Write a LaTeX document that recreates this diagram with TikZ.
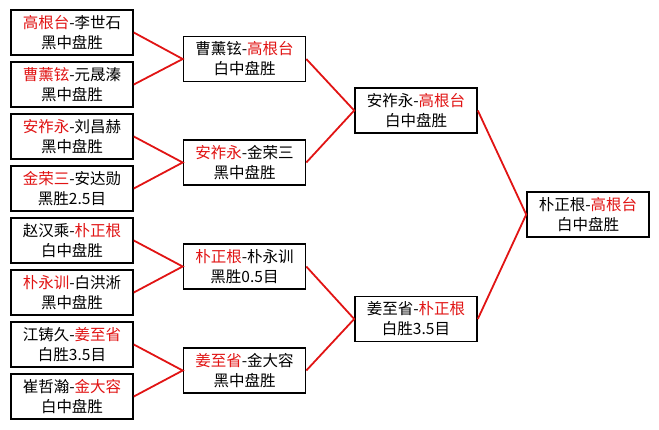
\documentclass[tikz,border=0pt]{standalone}
\usepackage{fontspec}
\newfontfamily\cjk{Noto Sans CJK SC}
\definecolor{win}{RGB}{225,20,20}
\newcommand{\w}[1]{\textcolor{win}{#1}}
\begin{document}
\begin{tikzpicture}[x=1pt, y=-1pt, line width=1.6pt]
	\tikzset{
		game/.style={draw=black, fill=white, minimum width=122pt, minimum height=45pt,
			inner sep=0pt, align=center, font=\cjk\fontsize{15.5}{20}\selectfont},
		link/.style={draw=win, line width=1.8pt}
	}
	\useasboundingbox (0, 0) rectangle (659, 429);

	% first round
	\node[game] (p1) at (72, 32.5) {\w{高根台}-李世石\\黑中盘胜};
	\node[game] (p2) at (72, 84.5) {\w{曹薰铉}-元晟溱\\黑中盘胜};
	\node[game] (p3) at (72, 136.5) {\w{安祚永}-刘昌赫\\黑中盘胜};
	\node[game] (p4) at (72, 188.5) {\w{金荣三}-安达勋\\黑胜2.5目};
	\node[game] (p5) at (72, 240.5) {赵汉乘-\w{朴正根}\\白中盘胜};
	\node[game] (p6) at (72, 292.5) {\w{朴永训}-白洪淅\\黑中盘胜};
	\node[game] (p7) at (72, 344.5) {江铸久-\w{姜至省}\\白胜3.5目};
	\node[game] (p8) at (72, 396.5) {崔哲瀚-\w{金大容}\\白中盘胜};

	% quarter finals
	\node[game] (q1) at (244.5, 59) {曹薰铉-\w{高根台}\\白中盘胜};
	\node[game] (q2) at (244.5, 162.5) {\w{安祚永}-金荣三\\黑中盘胜};
	\node[game] (q3) at (244.5, 266.5) {\w{朴正根}-朴永训\\黑胜0.5目};
	\node[game] (q4) at (244.5, 370.5) {\w{姜至省}-金大容\\黑中盘胜};

	% semi finals
	\node[game] (s1) at (416, 110.5) {安祚永-\w{高根台}\\白中盘胜};
	\node[game] (s2) at (416, 319) {姜至省-\w{朴正根}\\白胜3.5目};

	% final
	\node[game] (f) at (588, 214.5) {朴正根-\w{高根台}\\白中盘胜};

	\draw[link] (p1.east) -- (q1.west) -- (p2.east);
	\draw[link] (p3.east) -- (q2.west) -- (p4.east);
	\draw[link] (p5.east) -- (q3.west) -- (p6.east);
	\draw[link] (p7.east) -- (q4.west) -- (p8.east);

	\draw[link] (q1.east) -- (s1.west) -- (q2.east);
	\draw[link] (q3.east) -- (s2.west) -- (q4.east);

	\draw[link] (s1.east) -- (f.west) -- (s2.east);
\end{tikzpicture}
\end{document}
